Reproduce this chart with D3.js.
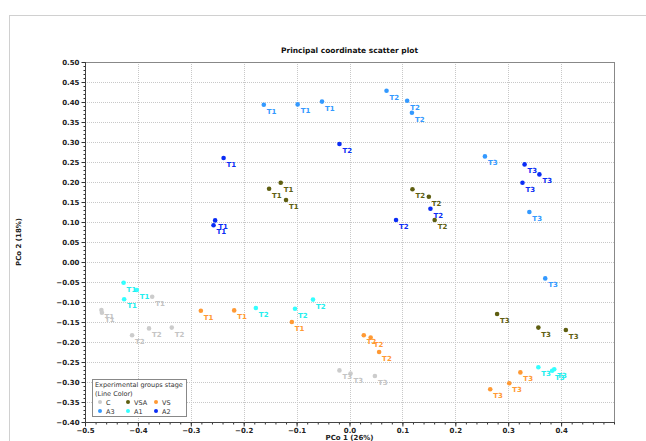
<!DOCTYPE html>
<html>
<head>
<meta charset="utf-8">
<script src="https://cdn.jsdelivr.net/npm/d3@7/dist/d3.min.js"></script>
<style>
  html, body { margin: 0; padding: 0; background: #fff; }
  svg { display: block; }
  text { font-family: "DejaVu Sans", sans-serif; }
</style>
</head>
<body>
<svg id="chart" width="646" height="441"></svg>
<script>
// Group names in legend order
const groups = ["C", "VSA", "VS", "A3", "A1", "A2"];

// Sample coordinates per group: [PCo 1, PCo 2, time point]
const pointsC = [
  [-0.373, -0.087, "T1"], [-0.469, -0.120, "T1"], [-0.468, -0.127, "T1"],
  [-0.379, -0.166, "T2"], [-0.336, -0.164, "T2"], [-0.411, -0.183, "T2"],
  [-0.019, -0.271, "T3"], [0.002, -0.279, "T3"], [0.048, -0.285, "T3"]
];
const pointsVSA = [
  [-0.130, 0.198, "T1"], [-0.152, 0.183, "T1"], [-0.120, 0.155, "T1"],
  [0.119, 0.182, "T2"], [0.150, 0.163, "T2"], [0.161, 0.105, "T2"],
  [0.279, -0.130, "T3"], [0.357, -0.164, "T3"], [0.409, -0.170, "T3"]
];
const pointsVS = [
  [-0.281, -0.122, "T1"], [-0.218, -0.121, "T1"], [-0.109, -0.150, "T1"],
  [0.027, -0.183, "T2"], [0.040, -0.189, "T2"], [0.056, -0.225, "T2"],
  [0.323, -0.276, "T3"], [0.302, -0.303, "T3"], [0.266, -0.318, "T3"]
];
const pointsA3 = [
  [-0.162, 0.393, "T1"], [-0.098, 0.394, "T1"], [-0.052, 0.401, "T1"],
  [0.070, 0.428, "T2"], [0.109, 0.403, "T2"], [0.118, 0.373, "T2"],
  [0.256, 0.264, "T3"], [0.340, 0.125, "T3"], [0.370, -0.041, "T3"]
];
const pointsA1 = [
  [-0.427, -0.052, "T1"], [-0.402, -0.070, "T1"], [-0.426, -0.093, "T1"],
  [-0.069, -0.094, "T2"], [-0.103, -0.117, "T2"], [-0.177, -0.115, "T2"],
  [0.357, -0.263, "T3"], [0.383, -0.272, "T3"], [0.387, -0.268, "T3"]
];
const pointsA2 = [
  [-0.238, 0.260, "T1"], [-0.254, 0.104, "T1"], [-0.257, 0.092, "T1"],
  [-0.019, 0.295, "T2"], [0.088, 0.105, "T2"], [0.153, 0.133, "T2"],
  [0.331, 0.244, "T3"], [0.359, 0.219, "T3"], [0.327, 0.198, "T3"]
];
const pointsByGroup = {C: pointsC, VSA: pointsVSA, VS: pointsVS, A3: pointsA3, A1: pointsA1, A2: pointsA2};

// Axis ticks
const xTicks = [-0.5, -0.4, -0.3, -0.2, -0.1, 0.0, 0.1, 0.2, 0.3, 0.4];
const yTicks = [0.50, 0.45, 0.40, 0.35, 0.30, 0.25, 0.20, 0.15, 0.10, 0.05, 0.00,
                -0.05, -0.10, -0.15, -0.20, -0.25, -0.30, -0.35, -0.40];

const titleText = "Principal coordinate scatter plot";
const xTitle = "PCo 1 (26%)";
const yTitle = "PCo 2 (18%)";
const legendTitle = ["Experimental groups stage", "(Line Color)"];

// Styling
const colors = {C: "#cccccc", VSA: "#5e5e10", VS: "#ff9933", A3: "#3399ff", A1: "#33ffff", A2: "#0a2cf5"};
const labelColors = {C: "#c4c4c4", VSA: "#5e5e10", VS: "#ff9933", A3: "#3399ff", A1: "#22eeee", A2: "#0a2cf5"};

const svg = d3.select("#chart");
const plot = {left: 85, right: 614, top: 62, bottom: 422};

// outer panel border
svg.append("rect")
  .attr("x", 9.5).attr("y", 15.5).attr("width", 700).attr("height", 500)
  .attr("fill", "none").attr("stroke", "#d0d0d0");

const x = d3.scaleLinear().domain([-0.5, 0.5]).range([plot.left, plot.right]);
const y = d3.scaleLinear().domain([-0.4, 0.5]).range([plot.bottom, plot.top]);

// gridlines
const grid = svg.append("g");
grid.selectAll("line.gx").data(xTicks.filter(t => t > -0.5)).join("line")
  .attr("x1", d => Math.round(x(d)) + 0.5).attr("x2", d => Math.round(x(d)) + 0.5)
  .attr("y1", plot.top).attr("y2", plot.bottom)
  .attr("stroke", "#c8c8c8").attr("stroke-width", 1).attr("stroke-dasharray", "1,1");
grid.selectAll("line.gy").data(yTicks.filter(t => t > -0.4)).join("line")
  .attr("y1", d => Math.round(y(d)) + 0.5).attr("y2", d => Math.round(y(d)) + 0.5)
  .attr("x1", plot.left).attr("x2", plot.right)
  .attr("stroke", "#c8c8c8").attr("stroke-width", 1).attr("stroke-dasharray", "1,1");

// plot frame
svg.append("rect")
  .attr("x", plot.left + 0.5).attr("y", plot.top + 0.5)
  .attr("width", plot.right - plot.left).attr("height", plot.bottom - plot.top)
  .attr("fill", "none").attr("stroke", "#888888").attr("stroke-width", 1);

// axes (major ticks with labels, minor ticks without)
const xAxis = d3.axisBottom(x).tickValues(xTicks).tickFormat(d3.format(".1f")).tickSize(4).tickPadding(2);
const xMinor = d3.range(-0.5, 0.5001, 0.02).map(v => +v.toFixed(2));
const yAxis = d3.axisLeft(y).tickValues(yTicks).tickFormat(d3.format(".2f")).tickSize(4).tickPadding(2);
const yMinor = d3.range(-0.4, 0.5001, 0.01).map(v => +v.toFixed(2));

const gxMinor = svg.append("g").attr("transform", `translate(0,${plot.bottom + 0.5})`)
  .call(d3.axisBottom(x).tickValues(xMinor).tickFormat("").tickSize(2));
const gyMinor = svg.append("g").attr("transform", `translate(${plot.left + 0.5},0)`)
  .call(d3.axisLeft(y).tickValues(yMinor).tickFormat("").tickSize(2));
const gx = svg.append("g").attr("transform", `translate(0,${plot.bottom + 0.5})`).call(xAxis);
const gy = svg.append("g").attr("transform", `translate(${plot.left + 0.5},0)`).call(yAxis);

[gx, gy, gxMinor, gyMinor].forEach(g => {
  g.select(".domain").remove();
  g.selectAll(".tick line").attr("stroke", "#333");
  g.selectAll(".tick text")
    .attr("font-family", "DejaVu Sans, sans-serif")
    .attr("font-size", 7).attr("font-weight", "bold").attr("fill", "#222");
});
// axis lines
svg.append("line").attr("x1", plot.left).attr("x2", plot.right + 1)
  .attr("y1", plot.bottom + 0.5).attr("y2", plot.bottom + 0.5).attr("stroke", "#444");
svg.append("line").attr("x1", plot.left + 0.5).attr("x2", plot.left + 0.5)
  .attr("y1", plot.top).attr("y2", plot.bottom + 1).attr("stroke", "#444");

// titles
svg.append("text").attr("x", (plot.left + plot.right) / 2).attr("y", 53)
  .attr("text-anchor", "middle").attr("font-size", 7.5).attr("font-weight", "bold")
  .attr("fill", "#111").text(titleText);
svg.append("text").attr("x", (plot.left + plot.right) / 2).attr("y", 440)
  .attr("text-anchor", "middle").attr("font-size", 7).attr("font-weight", "bold")
  .attr("fill", "#222").text(xTitle);
svg.append("text")
  .attr("transform", `translate(21,${(plot.top + plot.bottom) / 2}) rotate(-90)`)
  .attr("text-anchor", "middle").attr("font-size", 7).attr("font-weight", "bold")
  .attr("fill", "#222").text(yTitle);

// points and time labels
const marks = svg.append("g");
groups.forEach(g => {
  const pts = pointsByGroup[g];
  marks.append("g").selectAll("circle").data(pts).join("circle")
    .attr("cx", d => x(d[0])).attr("cy", d => y(d[1])).attr("r", 2.3)
    .attr("fill", colors[g]);
  marks.append("g").selectAll("text").data(pts).join("text")
    .attr("x", d => x(d[0]) + 3).attr("y", d => y(d[1]) + 9)
    .attr("font-size", 7).attr("font-weight", "bold")
    .attr("fill", labelColors[g]).text(d => d[2]);
});

// legend
const lg = svg.append("g").attr("transform", "translate(92,379)");
lg.append("rect").attr("x", 0.5).attr("y", 0.5).attr("width", 94).attr("height", 37)
  .attr("fill", "#fff").attr("stroke", "#888");
legendTitle.forEach((t, i) => {
  lg.append("text").attr("x", 3).attr("y", 8 + i * 8.5)
    .attr("font-size", 6.5).attr("fill", "#333").text(t);
});
lg.selectAll("g.item").data(groups).join("g")
  .attr("transform", (d, i) => `translate(${8 + (i % 3) * 28},${23 + Math.floor(i / 3) * 9})`)
  .each(function(d) {
    const it = d3.select(this);
    it.append("circle").attr("cx", 0).attr("cy", 0).attr("r", 2).attr("fill", colors[d]);
    it.append("text").attr("x", 6).attr("y", 2.5).attr("font-size", 6.5)
      .attr("fill", "#333").text(d);
  });
</script>
</body>
</html>
